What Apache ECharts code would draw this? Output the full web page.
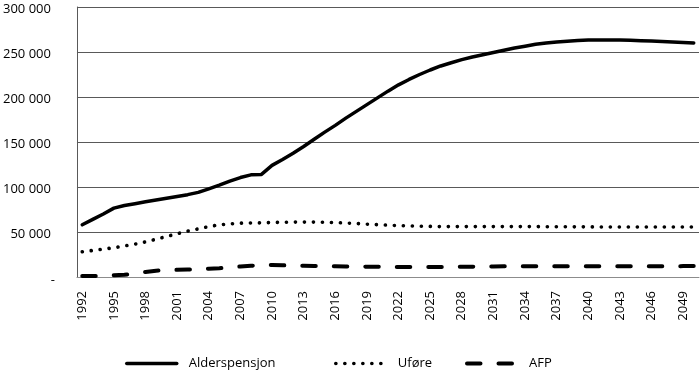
<!DOCTYPE html>
<html>
<head>
<meta charset="utf-8">
<script src="https://cdn.jsdelivr.net/npm/echarts@6/dist/echarts.min.js"></script>
<style>html,body{margin:0;padding:0;background:#fff}#c{width:700px;height:374px}</style>
</head>
<body>
<div id="c"></div>
<script>
var years = [];
for (var y = 1992; y <= 2050; y++) years.push(String(y));

var alderspensjon = [58000,64000,70000,76500,79500,81500,83500,85500,87500,89500,
91500,94000,98000,102000,106500,110500,113500,114000,124000,130500,
137500,145000,153000,161000,168500,176500,184000,191500,199000,206500,
213500,219500,225000,230000,234500,238000,241500,244500,247000,249500,
252000,254500,256500,258500,260000,261200,262000,262700,263200,263400,
263400,263200,263000,262600,262200,261800,261200,260600,260000];

var ufore = [28000,29500,31000,32500,34500,36500,39000,42000,45000,48000,
51000,53500,56000,58000,59000,59800,60000,60200,60500,60800,
61000,61000,61000,60800,60400,60000,59400,58700,58100,57600,
57100,56700,56400,56200,56000,56000,56000,56000,56000,56000,
56000,56000,56000,56000,55900,55800,55800,55700,55700,55600,
55600,55600,55600,55500,55500,55500,55500,55500,55500];

var afp = [1000,1000,1500,2000,2500,4000,5500,7000,7500,8000,
8300,8700,9200,9700,10700,11700,12500,13000,13300,13000,
12600,12400,12200,12000,12000,11800,11600,11500,11400,11300,
11200,11200,11200,11200,11200,11300,11300,11500,11700,11800,
11900,12000,12000,12000,12000,12000,12000,12000,12000,12000,
12000,12000,12000,12000,12000,12000,12000,12100,12200];

var yTicks = [0, 50000, 100000, 150000, 200000, 250000, 300000];

var FONT = '"Open Sans", "DejaVu Sans", sans-serif';
function fmt(v) {
  if (v === 0) return '{z|-}';
  return '{v|' + String(v).replace(/\B(?=(\d{3})+(?!\d))/g, ' ') + '}';
}

var styles = {
  'Alderspensjon': {color: '#000', width: 3.5, type: 'solid', cap: 'round', join: 'round'},
  'Uføre': {color: '#000', width: 3.6, type: [0.1, 8.9], cap: 'round', join: 'round'},
  'AFP': {color: '#000', width: 4, type: [13.5, 18], cap: 'round', join: 'round'}
};

var chart = echarts.init(document.getElementById('c'), null, {renderer: 'canvas'});
function legendAt(left, name) {
  return {
    left: left, top: 357, padding: 0, itemWidth: 50, itemHeight: 14, itemGap: 10,
    data: [name],
    textStyle: {fontFamily: FONT, fontSize: 13, color: '#000', padding: [0, 0, 0, 7]},
    itemStyle: {color: 'rgba(0,0,0,0)', borderWidth: 0, opacity: 0},
    lineStyle: styles[name],
    selectedMode: false
  };
}
chart.setOption({
  animation: false,
  backgroundColor: '#fff',
  grid: {left: 74, right: 1, top: 7, bottom: 97, containLabel: false},
  legend: [legendAt(125, 'Alderspensjon'), legendAt(334, 'Uføre'), legendAt(465, 'AFP')],
  xAxis: {
    type: 'category',
    data: years,
    boundaryGap: true,
    axisLine: {show: true, lineStyle: {color: '#8c8c8c', width: 1}},
    axisTick: {show: false},
    axisLabel: {interval: 2, rotate: 90, margin: 14, fontFamily: FONT, fontSize: 13, color: '#000'},
    splitLine: {show: false}
  },
  yAxis: {
    type: 'value',
    min: yTicks[0], max: yTicks[yTicks.length - 1], interval: 50000,
    axisLine: {show: true, lineStyle: {color: '#595959', width: 1}},
    axisTick: {show: false},
    axisLabel: {
      margin: 22, formatter: fmt, fontFamily: FONT, fontSize: 13, color: '#000',
      rich: {
        v: {fontFamily: FONT, fontSize: 13, color: '#000', padding: [4, 4, 0, 0]},
        z: {fontFamily: FONT, fontSize: 13, color: '#000', padding: [6, 0, 0, 0]}
      }
    },
    splitLine: {show: true, lineStyle: {color: '#595959', width: 1}}
  },
  series: [
    {
      name: 'Alderspensjon', type: 'line', data: alderspensjon,
      symbol: 'none', showSymbol: false, smooth: false,
      itemStyle: {color: '#000'},
      lineStyle: styles['Alderspensjon']
    },
    {
      name: 'Uføre', type: 'line', data: ufore,
      symbol: 'none', showSymbol: false,
      itemStyle: {color: '#000'},
      lineStyle: styles['Uføre']
    },
    {
      name: 'AFP', type: 'line', data: afp,
      symbol: 'none', showSymbol: false,
      itemStyle: {color: '#000'},
      lineStyle: styles['AFP']
    }
  ]
});
</script>
</body>
</html>
